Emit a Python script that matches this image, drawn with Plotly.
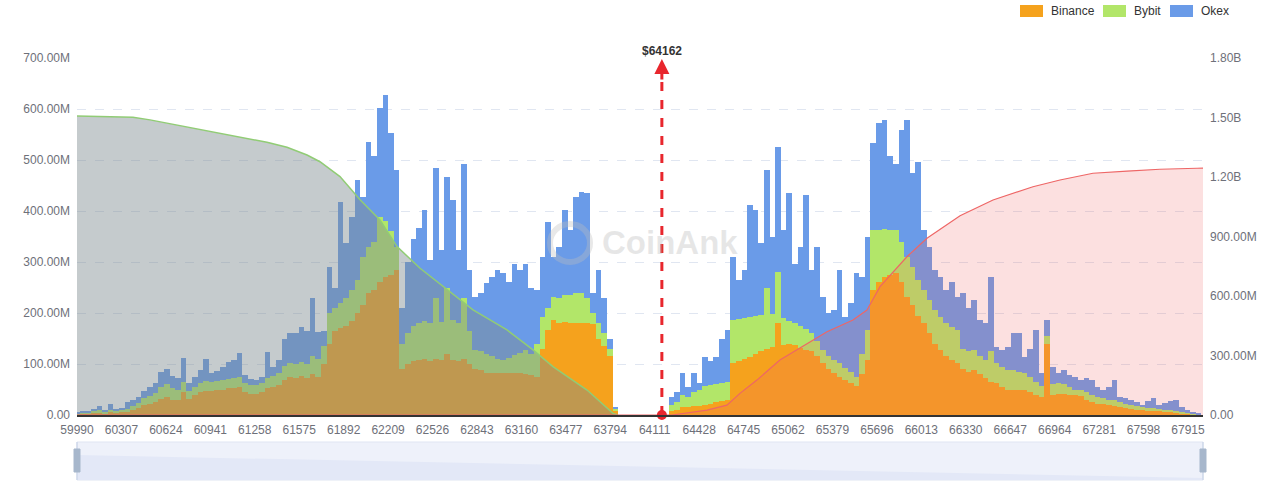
import plotly.graph_objects as go

# ---------------- data ----------------
CURRENT_PRICE = 64162
TICK_LABELS = ["59990", "60307", "60624", "60941", "61258", "61575", "61892", "62209",
               "62526", "62843", "63160", "63477", "63794", "64111", "64428", "64745",
               "65062", "65379", "65696", "66013", "66330", "66647", "66964", "67281",
               "67598", "67915"]
X_MIN, X_MAX = 59990, 68022
STEP = 40
LEFT_START = 59990
RIGHT_START = 64230

# liquidation intensity per price level, in millions (below current price)
left_binance = [1, 2, 2, 3, 4, 3, 5, 4, 5, 6,
                10, 14, 20, 22, 25, 32, 36, 30, 30, 45,
                32, 40, 45, 48, 48, 50, 50, 52, 52, 55,
                45, 42, 42, 46, 52, 55, 58, 68, 75, 72,
                76, 72, 80, 75, 100, 140, 165, 170, 175, 185,
                200, 215, 240, 245, 260, 270, 275, 284, 90, 100,
                105, 108, 110, 105, 110, 108, 120, 108, 105, 110,
                100, 90, 88, 82, 82, 82, 82, 82, 82, 82,
                80, 78, 75, 130, 167, 186, 180, 182, 180, 180,
                180, 180, 178, 150, 135, 115, 8]
left_bybit = [2, 3, 2, 4, 5, 3, 5, 4, 4, 6,
              8, 10, 14, 16, 19, 23, 24, 22, 20, 20,
              16, 15, 17, 18, 16, 16, 18, 18, 20, 20,
              17, 16, 16, 16, 20, 21, 24, 28, 26, 28,
              28, 28, 35, 35, 35, 60, 45, 50, 55, 60,
              65, 95, 90, 95, 129, 110, 85, 46, 50, 60,
              70, 72, 75, 75, 120, 74, 130, 78, 75, 120,
              65, 38, 37, 38, 33, 28, 26, 30, 36, 40,
              47, 42, 65, 63, 43, 46, 50, 53, 56, 59,
              59, 50, 22, 30, 25, 15, 4]
left_okex = [2, 3, 2, 5, 9, 4, 12, 4, 5, 14,
             12, 12, 14, 17, 18, 30, 30, 24, 22, 47,
             14, 20, 26, 44, 18, 20, 27, 34, 36, 47,
             16, 12, 10, 13, 52, 19, 26, 54, 59, 60,
             68, 65, 114, 52, 30, 90, 40, 198, 107, 144,
             196, 118, 206, 167, 212, 247, 192, 150, 70, 140,
             171, 186, 217, 124, 254, 142, 217, 236, 144, 263,
             119, 104, 114, 138, 156, 174, 170, 148, 179, 162,
             170, 130, 105, 117, 169, 78, 100, 167, 127, 189,
             199, 205, 40, 104, 70, 20, 4]

# above current price
right_binance = [8, 10, 15, 15, 18, 18, 20, 22, 25, 28,
                 30, 101, 105, 110, 114, 120, 125, 130, 134, 180,
                 138, 140, 138, 132, 128, 125, 115, 101, 90, 82,
                 75, 68, 62, 56, 80, 108, 245, 260, 270, 275,
                 278, 260, 232, 215, 195, 180, 160, 140, 127, 115,
                 108, 101, 90, 85, 88, 80, 72, 65, 62, 55,
                 49, 49, 49, 49, 45, 40, 36, 140, 40, 42,
                 42, 40, 39, 38, 30, 25, 22, 22, 20, 18,
                 15, 13, 12, 10, 9, 8, 8, 7, 6, 5,
                 4, 3, 2, 1, 0.5]
right_bybit = [12, 15, 25, 20, 27, 32, 36, 36, 35, 34,
               35, 85, 83, 80, 79, 75, 71, 120, 65, 100,
               52, 45, 42, 43, 40, 35, 30, 26, 25, 26,
               26, 24, 23, 19, 40, 59, 118, 103, 95, 88,
               85, 80, 78, 75, 70, 65, 65, 65, 66, 65,
               64, 66, 40, 40, 39, 35, 36, 60, 39, 40,
               39, 39, 36, 33, 30, 25, 20, 15, 20, 20,
               18, 15, 11, 11, 15, 15, 14, 12, 10, 11,
               10, 9, 8, 8, 6, 6, 5, 4, 4, 4,
               4, 3, 2, 2, 0.5]
right_okex = [15, 20, 42, 20, 37, 12, 58, 47, 54, 88,
              102, 124, 77, 94, 219, 207, 141, 230, 151, 246,
              173, 250, 117, 155, 263, 124, 185, 105, 85, 98,
              183, 101, 135, 203, 151, 183, 170, 209, 213, 144,
              130, 219, 268, 184, 232, 118, 105, 79, 78, 65,
              88, 65, 109, 85, 98, 71, 72, 146, 33, 32,
              46, 72, 75, 32, 55, 102, 26, 31, 35, 20,
              28, 23, 25, 20, 27, 29, 19, 15, 25, 40,
              11, 11, 9, 7, 5, 14, 20, 9, 14, 18,
              21, 9, 6, 3, 1]

# cumulative liquidation (billions, right axis)
long_cum_price = [59990, 60389, 60511, 60725, 60960, 61153, 61345, 61488, 61631, 61723,
                  61866, 62009, 62151, 62273, 62437, 62815, 63057, 63243, 63385, 63628,
                  63813, 63849]
long_cum_value = [1.508, 1.501, 1.488, 1.459, 1.429, 1.400, 1.375, 1.350, 1.311, 1.277,
                  1.202, 1.085, 0.983, 0.849, 0.740, 0.530, 0.429, 0.328, 0.244, 0.126,
                  0.008, 0.0]
short_cum_price = [59990, 64234, 64484, 64626, 64719, 64840, 65004, 65197, 65340, 65525,
                   65625, 65718, 65910, 66053, 66196, 66289, 66524, 66809, 67002, 67237,
                   67480, 67715, 67980, 68022]
short_cum_value = [0, 0, 0.025, 0.050, 0.109, 0.176, 0.277, 0.361, 0.420, 0.479,
                   0.529, 0.647, 0.798, 0.891, 0.958, 1.005, 1.084, 1.151, 1.185, 1.219,
                   1.230, 1.239, 1.244, 1.245]

LEFT_TICKS = [0, 100, 200, 300, 400, 500, 600, 700]
RIGHT_TICKS = [0, 0.3, 0.6, 0.9, 1.2, 1.5, 1.8]
RIGHT_TICK_TEXT = ["0.00", "300.00M", "600.00M", "900.00M", "1.20B", "1.50B", "1.80B"]

# ---------------- styling ----------------
C_BIN = "#f5a21d"
C_BYB = "#b2e669"
C_OKX = "#6a9be8"
FONT = "Liberation Sans, Arial, sans-serif"
TICK_COLOR = "#6e7079"

W, H = 1280, 484
ML, MR, MT, MB = 77, 77, 58, 69
PW, PH = W - ML - MR, H - MT - MB


def px_x(px):
    return (px - ML) / PW


def px_y(py):
    return (H - MB - py) / PH


prices_left = [LEFT_START + STEP * i for i in range(len(left_binance))]
prices_right = [RIGHT_START + STEP * i for i in range(len(right_binance))]
bar_x = prices_left + prices_right

fig = go.Figure()
for name, vals, col in [("Binance", left_binance + right_binance, C_BIN),
                        ("Bybit", left_bybit + right_bybit, C_BYB),
                        ("Okex", left_okex + right_okex, C_OKX)]:
    fig.add_trace(go.Bar(x=bar_x, y=vals, name=name, width=STEP,
                         marker=dict(color=col, line=dict(width=0)),
                         showlegend=False, yaxis="y"))

fig.add_trace(go.Scatter(x=long_cum_price, y=long_cum_value, yaxis="y2", mode="lines",
                         line=dict(color="#91cc75", width=1.5),
                         fill="tozeroy", fillcolor="rgba(127,140,145,0.45)",
                         showlegend=False))
fig.add_trace(go.Scatter(x=short_cum_price, y=short_cum_value, yaxis="y2", mode="lines",
                         line=dict(color="#ee6666", width=1.2),
                         fill="tozeroy", fillcolor="rgba(238,102,102,0.2)",
                         showlegend=False))
fig.add_trace(go.Scatter(x=[CURRENT_PRICE], y=[0], yaxis="y2", mode="markers",
                         marker=dict(color="#e8262d", size=10), cliponaxis=False,
                         showlegend=False))

shapes = []
# current price dashed marker
shapes.append(dict(type="line", xref="x", yref="paper", x0=CURRENT_PRICE, x1=CURRENT_PRICE,
                   y0=0, y1=px_y(72), line=dict(color="#e8262d", width=3, dash="dash")))
# watermark logo ring
shapes.append(dict(type="circle", xref="paper", yref="paper",
                   x0=px_x(550), x1=px_x(590), y0=px_y(262), y1=px_y(224),
                   line=dict(color="rgba(190,190,190,0.35)", width=6)))
# legend swatches
for x0, col in [(1020, C_BIN), (1103, C_BYB), (1170, C_OKX)]:
    shapes.append(dict(type="rect", xref="paper", yref="paper",
                       x0=px_x(x0), x1=px_x(x0 + 23), y0=px_y(17), y1=px_y(5),
                       fillcolor=col, line=dict(width=0)))
# data-zoom slider
shapes.append(dict(type="rect", xref="paper", yref="paper", x0=0, x1=1,
                   y0=px_y(480), y1=px_y(442), fillcolor="#eef1fa",
                   line=dict(color="#dfe5f2", width=1)))
shapes.append(dict(type="path", xref="paper", yref="paper",
                   path=f"M 0,{px_y(455)} L 1,{px_y(478)} L 1,{px_y(480)} L 0,{px_y(480)} Z",
                   fillcolor="#e3e8f7", line=dict(width=0)))
for hx in (77, 1203):
    shapes.append(dict(type="line", xref="paper", yref="paper", x0=px_x(hx), x1=px_x(hx),
                       y0=px_y(480), y1=px_y(442), line=dict(color="#c3cfe4", width=1)))
    shapes.append(dict(type="rect", xref="paper", yref="paper",
                       x0=px_x(hx - 3), x1=px_x(hx + 3), y0=px_y(472), y1=px_y(449),
                       fillcolor="#a7b7cc", line=dict(color="#a7b7cc", width=1)))

annotations = [
    dict(x=CURRENT_PRICE, y=px_y(59), xref="x", yref="paper", ax=0, ay=22,
         axref="pixel", ayref="pixel", showarrow=True, arrowhead=2, arrowsize=1,
         arrowwidth=3, arrowcolor="#e8262d", text=""),
    dict(x=CURRENT_PRICE, y=px_y(42), xref="x", yref="paper", text="<b>$64162</b>",
         showarrow=False, font=dict(family=FONT, size=12, color="#333333")),
    dict(x=px_x(670), y=px_y(243), xref="paper", yref="paper", text="<b>CoinAnk</b>",
         showarrow=False, font=dict(family=FONT, size=33, color="rgba(185,185,185,0.35)")),
]
for lx, txt in [(1049, "Binance"), (1132, "Bybit"), (1199, "Okex")]:
    annotations.append(dict(x=px_x(lx), y=px_y(11), xref="paper", yref="paper", text=txt,
                            xanchor="left", yanchor="middle", showarrow=False,
                            font=dict(family=FONT, size=12, color="#333333")))

fig.update_layout(
    width=W, height=H, margin=dict(l=ML, r=MR, t=MT, b=MB),
    plot_bgcolor="white", paper_bgcolor="white",
    barmode="stack", bargap=0, showlegend=False,
    font=dict(family=FONT, size=12, color=TICK_COLOR),
    xaxis=dict(range=[X_MIN, X_MAX], tickvals=[int(t) for t in TICK_LABELS],
               ticktext=TICK_LABELS, showgrid=False, zeroline=False, showline=True,
               linecolor="#333333", linewidth=1.5, ticks="", ticklabelstandoff=3,
               tickfont=dict(family=FONT, size=12, color=TICK_COLOR)),
    yaxis=dict(range=[0, 700], tickvals=LEFT_TICKS,
               ticktext=["0.00"] + [f"{v:.2f}M" for v in LEFT_TICKS[1:]],
               showgrid=True, gridcolor="#e0e6f1", griddash="dash", gridwidth=1,
               zeroline=False, showline=False, ticks="", ticklabelstandoff=6,
               tickfont=dict(family=FONT, size=12, color=TICK_COLOR)),
    yaxis2=dict(range=[0, 1.8], overlaying="y", side="right", tickvals=RIGHT_TICKS,
                ticktext=RIGHT_TICK_TEXT, showgrid=False, zeroline=False, showline=False,
                ticks="", ticklabelstandoff=6,
                tickfont=dict(family=FONT, size=12, color=TICK_COLOR)),
    shapes=shapes, annotations=annotations,
)

fig.write_html("out.html", config={"displayModeBar": False},
               post_script="document.body.style.margin='0';")
